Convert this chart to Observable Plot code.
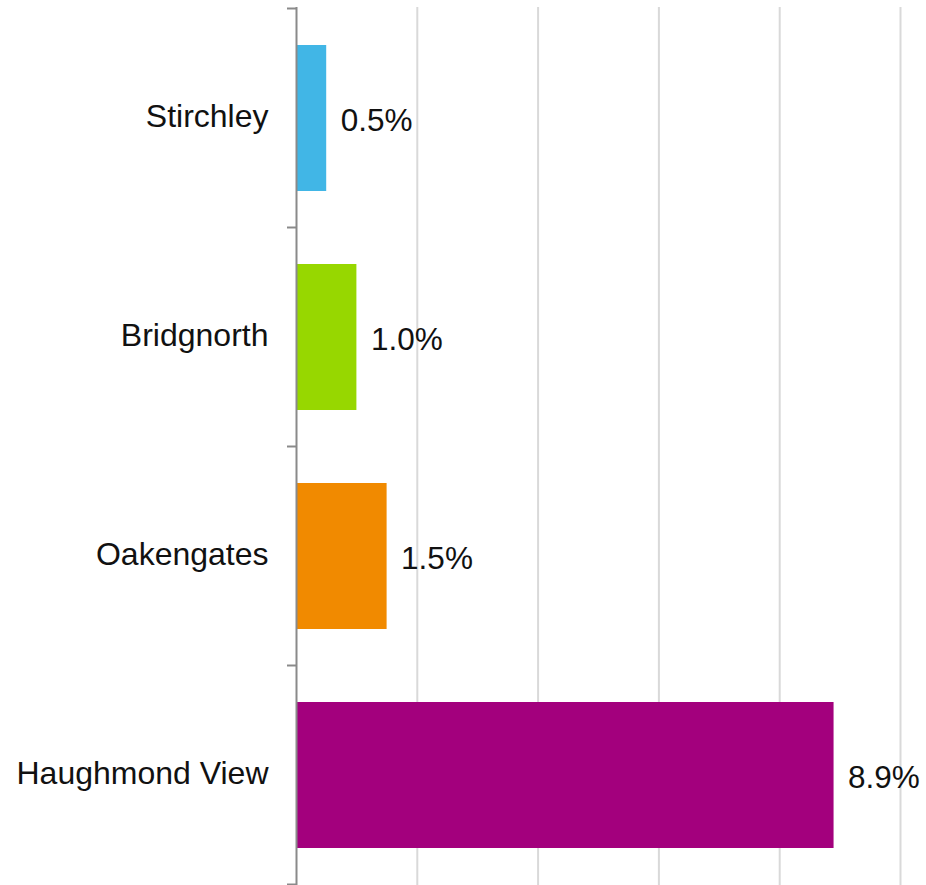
<!DOCTYPE html>
<html>
<head>
<meta charset="utf-8">
<script src="https://cdn.jsdelivr.net/npm/d3@7"></script>
<script src="https://cdn.jsdelivr.net/npm/@observablehq/plot@0.6"></script>
<style>
  html, body { margin: 0; padding: 0; background: #fff; }
  #chart svg { display: block; }
</style>
</head>
<body>
<div id="chart"></div>
<script>
const categories = ["Stirchley", "Bridgnorth", "Oakengates", "Haughmond View"];
const values = [0.5, 1.0, 1.5, 8.9];
const valueLabels = ["0.5%", "1.0%", "1.5%", "8.9%"];
const colors = ["#41b6e6", "#97d700", "#f18a00", "#a3007d"];
const gridTicks = [2, 4, 6, 8, 10];

const data = categories.map((name, i) => ({ name, value: values[i], label: valueLabels[i] }));

const FONT = "'Liberation Sans', Arial, sans-serif";

function boundaryTicks(index, scales, vals, dimensions) {
  const y = scales.y;
  const bw = y.bandwidth();
  const step = y.step ? y.step() : bw / (1 - 0.333);
  const gap = (step - bw) / 2;
  const positions = categories.map(c => y(c) - gap);
  positions.push(y(categories[categories.length - 1]) + bw + gap);
  const x0 = scales.x(0);
  const g = d3.create("svg:g");
  g.selectAll("line").data(positions).join("line")
    .attr("x1", x0 - 9).attr("x2", x0)
    .attr("y1", d => d).attr("y2", d => d)
    .attr("stroke", "#8a8a8a").attr("stroke-width", 2);
  return g.node();
}

const chart = Plot.plot({
  width: 926,
  height: 885,
  marginLeft: 296,
  marginRight: 26,
  marginTop: 7,
  marginBottom: -1,
  style: { fontFamily: FONT, background: "#fff" },
  x: { domain: [0, 10], axis: null },
  y: { domain: categories, paddingInner: 0.333, paddingOuter: 0.1665, axis: null },
  color: { domain: categories, range: colors },
  marks: [
    Plot.ruleX(gridTicks, { stroke: "#d9d9d9", strokeWidth: 2 }),
    Plot.barX(data, { x: "value", y: "name", fill: "name" }),
    Plot.text(data, {
      x: "value", y: "name", text: "label",
      textAnchor: "start", dx: 14, dy: 2, fontSize: 31.5, fill: "#111"
    }),
    Plot.axisY({ tickSize: 0, tickPadding: 28, fontSize: 32, fill: "#111", dy: -2, label: null }),
    Plot.ruleX([0], { stroke: "#8a8a8a", strokeWidth: 2 }),
    boundaryTicks
  ]
});

document.getElementById("chart").append(chart);
</script>
</body>
</html>
